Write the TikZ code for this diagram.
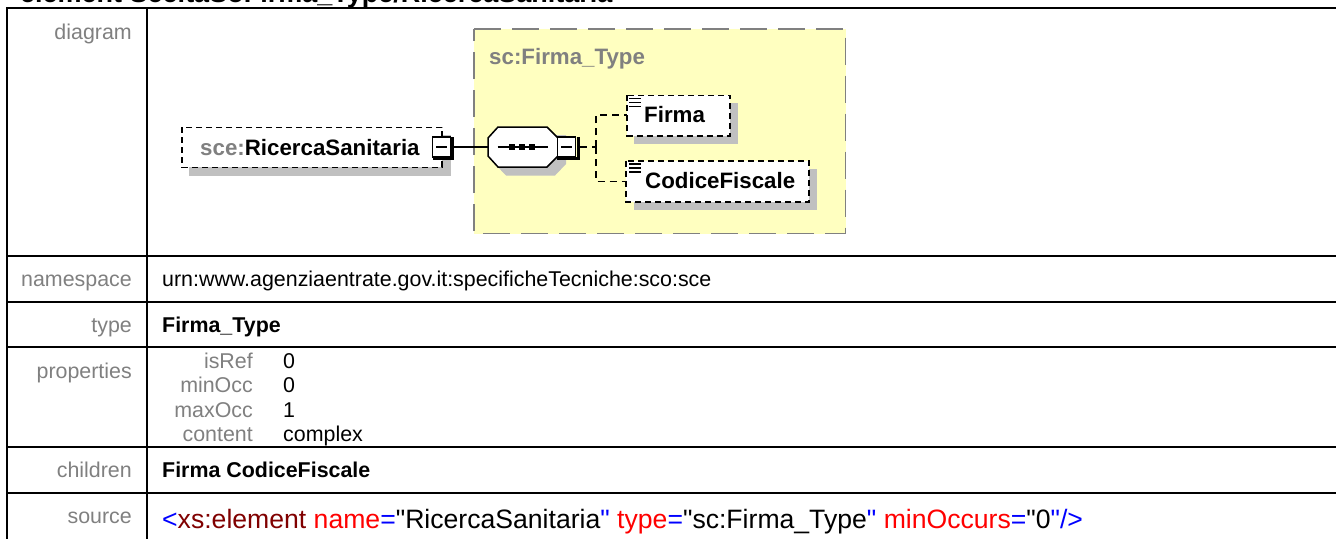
\documentclass[tikz,border=0pt]{standalone}
\usepackage{fontspec}
\setmainfont{Liberation Sans}
\newfontfamily\srcfont{Liberation Sans}
\definecolor{lab}{RGB}{128,128,128}
\definecolor{yel}{RGB}{255,255,192}
\definecolor{shad}{RGB}{192,192,192}
\definecolor{xmlblue}{RGB}{0,0,255}
\definecolor{xmlmar}{RGB}{128,0,0}
\definecolor{xmlred}{RGB}{255,0,0}
\tikzset{
 x=1pt,y=-1pt,
 rule/.style={line width=2pt,black},
 lbl/.style={anchor=base east,inner sep=0,text=lab,font=\fontsize{21.4}{22}\selectfont},
 val/.style={anchor=base west,inner sep=0,font=\fontsize{21.4}{22}\selectfont},
 bval/.style={val,font=\fontsize{21.4}{22}\selectfont\bfseries},
 dashbox/.style={draw,line width=1.6pt,dash pattern=on 6pt off 4pt},
 conn/.style={line width=1.5pt},
 dashconn/.style={line width=1.5pt,dash pattern=on 7pt off 5pt},
 elt/.style={anchor=base west,inner sep=0,font=\fontsize{22.3}{22}\selectfont\bfseries},
 minus/.style={draw,fill=white,line width=1.5pt,minimum width=18pt,minimum height=20pt,inner sep=0},
}
\begin{document}
\begin{tikzpicture}
\useasboundingbox (0,0) rectangle (1336,539);
\fill[white] (0,0) rectangle (1336,539);
% title
\node[anchor=base west,inner sep=0,font=\fontsize{27}{27}\selectfont\bfseries] (title) at (20,2) {element SceltaSoFirma\_Type/RicercaSanitaria};
% table
\draw[rule] (1336,8) -- (7.4,8) -- (7.4,539);
\draw[rule] (146.7,8) -- (146.7,539);
\foreach \yy in {255.7,301.7,346.7,446.7,492.7} \draw[rule] (7.4,\yy) -- (1336,\yy);
% left labels
\node[lbl] (l1) at (132,39) {diagram};
\node[lbl] (l2) at (132,286) {namespace};
\node[lbl] (l3) at (132,332.5) {type};
\node[lbl] (l4) at (132,378) {properties};
\node[lbl] (l5) at (132,477) {children};
\node[lbl] (l6) at (132,523) {source};
\node[val] (v2) at (162,286) {urn:www.agenziaentrate.gov.it:specificheTecniche:sco:sce};
\node[bval] (v3) at (162,332.5) {Firma\_Type};
\node[lbl] (p1) at (253,368) {isRef};
\node[lbl] (p2) at (253,392.5) {minOcc};
\node[lbl] (p3) at (253,417) {maxOcc};
\node[lbl] (p4) at (253,441) {content};
\node[val] (q1) at (283,368) {0};
\node[val] (q2) at (283,392.5) {0};
\node[val] (q3) at (283,417) {1};
\node[val] (q4) at (283,441) {complex};
\node[bval] (v5) at (162,477) {Firma CodiceFiscale};
\node[anchor=base west,inner sep=0,font=\fontsize{26.6}{27}\srcfont] (v6) at (162,528) {\textcolor{xmlblue}{<}\textcolor{xmlmar}{xs:element} \textcolor{xmlred}{name}\textcolor{xmlblue}{=}"RicercaSanitaria\textcolor{xmlblue}{"} \textcolor{xmlred}{type}\textcolor{xmlblue}{=}"sc:Firma\_Type\textcolor{xmlblue}{"} \textcolor{xmlred}{minOccurs}\textcolor{xmlblue}{=}"0\textcolor{xmlblue}{"/>}};
% yellow type box
\fill[yel] (474,29) rectangle (845.5,233.5);
\draw[line width=1.5pt,color=lab,dash pattern=on 27pt off 11pt] (474,29) -- (845.5,29) -- (845.5,233.5) -- (474,233.5) -- cycle;
\node[anchor=base west,inner sep=0,text=lab,font=\fontsize{22.3}{22}\selectfont\bfseries] (tn) at (489,64) {sc:Firma\_Type};
% element RicercaSanitaria
\fill[shad] (189,135) rectangle (451,175.7);
\fill[white] (182,127.3) rectangle (442,167.3);
\draw[dashbox] (182,127.3) rectangle (442,167.3);
\node[elt] (e1) at (200,155.5) {\textcolor{lab}{sce:}RicercaSanitaria};
\node[minus] (m1) at (441.5,147) {};
\draw[line width=1.5pt] (436,147) -- (447,147);
\draw[line width=3pt] (432.5,158.5) -- (452.5,158.5) -- (452.5,137);
% sequence
\fill[shad] (496,135) -- (566,135) -- (566,164) -- (555,175.5) -- (506,175.5) -- (496,165) -- cycle;
\draw[fill=white,line width=1.5pt] (498,127) -- (547,127) -- (558,138) -- (558,156) -- (547,167) -- (498,167) -- (488,156) -- (488,138) -- cycle;
\coordinate (sl) at (488,147);
\node[minus] (m2) at (566.5,147) {};
\draw[line width=1.5pt] (561,147) -- (572,147);
\draw[line width=3pt] (557,158.5) -- (578,158.5) -- (578,137);
\draw[conn] (m1.east) -- (sl);
\draw[conn] (497.5,147) -- (547.5,147);
\foreach \xx in {512,522,532} \fill (\xx-3,144) rectangle (\xx+3,150);
% children
\fill[shad] (634,102.7) rectangle (737.5,144);
\fill[white] (627,95.3) rectangle (730,135.7);
\draw[dashbox] (627,95.3) rectangle (730,135.7);
\node[elt] (c1) at (644,122.5) {Firma};
\fill[shad] (634,168.5) rectangle (817,210);
\fill[white] (626,160.7) rectangle (809,201.7);
\draw[dashbox] (626,160.7) rectangle (809,201.7);
\node[elt] (c2) at (645,188.5) {CodiceFiscale};
\foreach \yy in {98.5,102.5,106.5} \draw[line width=1.3pt] (629,\yy) -- (641,\yy);
\foreach \yy in {164,168,172} \draw[line width=1.3pt] (629,\yy) -- (641,\yy);
\coordinate (fork) at (596,147);
\draw[dashconn] (580,147) -- (fork);
\draw[dashconn] (fork) -- (596,115) -- (627,115);
\draw[dashconn] (fork) -- (596,181.5) -- (626,181.5);
\end{tikzpicture}
\end{document}
